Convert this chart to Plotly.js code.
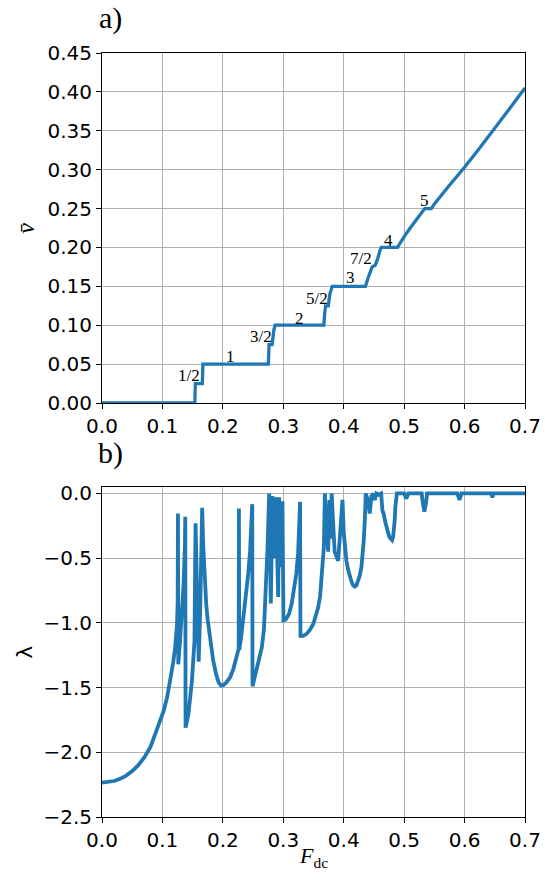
<!DOCTYPE html>
<html>
<head>
<meta charset="utf-8">
<script src="https://cdn.plot.ly/plotly-3.0.1.min.js"></script>
<style>html,body{margin:0;padding:0;background:#fff;}</style>
</head>
<body>
<div id="chart" style="width:545px;height:884px;"></div>
<script>
// Panel a): mean velocity vs F_dc
const fdcV = [0, 0.1537, 0.1540, 0.1545, 0.1660, 0.1665, 0.1670, 0.2753, 0.2758, 0.2765, 0.2815, 0.2825, 0.2845, 0.2865,
  0.3670, 0.3685, 0.3700, 0.3745, 0.3770, 0.3810, 0.4360, 0.4400, 0.4440, 0.4470, 0.4520, 0.4560, 0.4600, 0.4620,
  0.4890, 0.4940, 0.5000, 0.5100, 0.5200, 0.5300, 0.5340, 0.5450, 0.5500, 0.5750, 0.6000, 0.6250, 0.6500, 0.6750, 0.7000];
const vMean = [0, 0, 0.012, 0.025, 0.025, 0.037, 0.050, 0.050, 0.062, 0.075, 0.075, 0.084, 0.094, 0.100,
  0.100, 0.115, 0.125, 0.125, 0.140, 0.150, 0.150, 0.160, 0.170, 0.175, 0.177, 0.185, 0.196, 0.200,
  0.200, 0.207, 0.214, 0.225, 0.235, 0.245, 0.250, 0.250, 0.256, 0.280, 0.303, 0.328, 0.353, 0.379, 0.405];

// Step labels (winding numbers)
const stepText = ["1/2", "1", "3/2", "2", "5/2", "3", "7/2", "4", "5"];
const stepX = [0.144, 0.212, 0.263, 0.326, 0.355, 0.412, 0.428, 0.474, 0.534];
const stepY = [0.036, 0.060, 0.085, 0.109, 0.135, 0.161, 0.186, 0.209, 0.261];

// Panel b): Lyapunov exponent vs F_dc
const fdcL = [0.000, 0.010, 0.020, 0.030, 0.040, 0.050, 0.060, 0.070, 0.080, 0.088, 0.095, 0.102, 0.108, 0.113, 0.118, 0.121, 0.124, 0.1252,
  0.1257, 0.1262, 0.1290, 0.1320, 0.1350, 0.1372, 0.1378, 0.1383,
  0.1430, 0.1488, 0.1530, 0.1548, 0.1575, 0.1600, 0.1625, 0.1645, 0.1658,
  0.1675, 0.1697, 0.1725, 0.1750, 0.1800, 0.1840, 0.1890, 0.1930, 0.1970, 0.2010, 0.2060, 0.2120, 0.2173, 0.2228, 0.2262, 0.2266, 0.2271,
  0.2300, 0.2338, 0.2380, 0.2420, 0.2450, 0.2470, 0.2486, 0.2491,
  0.2530, 0.2560, 0.2600, 0.2645, 0.2680, 0.2700, 0.2725, 0.2740, 0.2766,
  0.2794, 0.2821, 0.2850, 0.2876, 0.2915, 0.2931, 0.2959, 0.2986, 0.3003,
  0.3040, 0.3096, 0.3140, 0.3179, 0.3215, 0.3245, 0.3265, 0.3278, 0.3284,
  0.3330, 0.3386, 0.3440, 0.3495, 0.3540, 0.3578, 0.3610, 0.3633, 0.3655, 0.3672, 0.3688,
  0.3715, 0.3743, 0.3765, 0.3780, 0.3800, 0.3850, 0.3908, 0.3950, 0.3980,
  0.4000, 0.4015, 0.4045, 0.4073, 0.4100, 0.4128, 0.4155, 0.4183, 0.4210, 0.4238, 0.4265, 0.4293, 0.4315, 0.4332, 0.4350, 0.4365,
  0.4400, 0.4430, 0.4460, 0.4490, 0.4513, 0.4540, 0.4580, 0.4620, 0.4640,
  0.4660, 0.4685, 0.4706, 0.4735, 0.4760, 0.4780, 0.4800, 0.4818, 0.4832, 0.4845, 0.4855, 0.4880,
  0.5000, 0.5036, 0.5070, 0.5290, 0.5310, 0.5335, 0.5360, 0.5380, 0.5880, 0.5916, 0.5950, 0.6440, 0.6460, 0.6480, 0.7000];
const lyap = [-2.235, -2.232, -2.222, -2.205, -2.180, -2.145, -2.100, -2.040, -1.960, -1.860, -1.770, -1.680, -1.570, -1.450, -1.300, -1.190, -1.020, -0.850,
  -0.155, -1.320, -1.150, -0.950, -0.700, -0.400, -0.180, -1.810,
  -1.705, -1.450, -1.140, -0.230, -0.900, -1.300, -0.900, -0.390, -0.110,
  -0.400, -0.670, -0.860, -0.980, -1.160, -1.290, -1.400, -1.460, -1.485, -1.480, -1.460, -1.420, -1.357, -1.270, -1.200, -0.117, -1.210,
  -1.120, -0.980, -0.820, -0.620, -0.450, -0.300, -0.083, -1.490,
  -1.420, -1.344, -1.280, -1.190, -1.050, -0.880, -0.650, -0.410, 0.000,
  -0.850, -0.020, -0.500, -0.030, -0.800, -0.030, -0.570, -0.060, -0.980,
  -0.975, -0.930, -0.850, -0.750, -0.620, -0.465, -0.280, -0.065, -1.100,
  -1.100, -1.085, -1.055, -1.010, -0.950, -0.880, -0.790, -0.670, -0.550, -0.410, 0.000,
  -0.300, -0.450, -0.050, -0.350, 0.000, -0.450, -0.520, -0.250, -0.050,
  -0.300, -0.410, -0.520, -0.590, -0.645, -0.680, -0.710, -0.720, -0.710, -0.680, -0.635, -0.570, -0.480, -0.360, -0.200, 0.000,
  -0.050, -0.155, -0.020, 0.000, -0.050, 0.000, -0.010, 0.000, -0.130,
  -0.155, -0.215, -0.260, -0.305, -0.340, -0.355, -0.360, -0.335, -0.290, -0.200, -0.100, 0.000,
  0.000, -0.040, 0.000, 0.000, -0.080, -0.140, -0.080, 0.000, 0.000, -0.050, 0.000, 0.000, -0.030, 0.000, 0.000];

const blue = '#1f77b4';
const traces = [
  {x: fdcV, y: vMean, type: 'scatter', mode: 'lines', line: {color: blue, width: 3.3}, xaxis: 'x', yaxis: 'y', hoverinfo: 'skip'},
  {x: fdcL, y: lyap, type: 'scatter', mode: 'lines', line: {color: blue, width: 3.8}, xaxis: 'x2', yaxis: 'y2', hoverinfo: 'skip'}
];

const tickFont = {family: 'DejaVu Sans', size: 20, color: '#000'};
const axBase = {
  showline: true, mirror: true, linecolor: '#000', linewidth: 1,
  ticks: 'outside', ticklen: 5, tickcolor: '#000', tickwidth: 1,
  showgrid: true, gridcolor: '#b0b0b0', gridwidth: 1, zeroline: false,
  tickfont: tickFont
};
const H = 764, T = 53;
function py(p) { return (817 - p) / H; }

const annotations = [];
for (let i = 0; i < stepText.length; i++) {
  annotations.push({x: stepX[i], y: stepY[i], xref: 'x', yref: 'y', text: stepText[i], showarrow: false,
    xanchor: 'center', yanchor: 'middle', font: {family: 'Liberation Serif', size: 17, color: '#000'}});
}
annotations.push({x: 0.02, y: py(18), xref: 'paper', yref: 'paper', text: 'a)', showarrow: false, xanchor: 'center', yanchor: 'middle',
  font: {family: 'Liberation Serif', size: 30, color: '#000'}});
annotations.push({x: 0.02, y: py(453), xref: 'paper', yref: 'paper', text: 'b)', showarrow: false, xanchor: 'center', yanchor: 'middle',
  font: {family: 'Liberation Serif', size: 30, color: '#000'}});
annotations.push({x: (25 - 101.5) / 424, y: py(228), xref: 'paper', yref: 'paper', text: '<i>v̄</i>', showarrow: false, textangle: -90,
  xanchor: 'center', yanchor: 'middle', font: {family: 'Liberation Serif', size: 24, color: '#000'}});
annotations.push({x: (23 - 101.5) / 424, y: py(652), xref: 'paper', yref: 'paper', text: 'λ', showarrow: false, textangle: -90,
  xanchor: 'center', yanchor: 'middle', font: {family: 'DejaVu Sans', size: 22, color: '#000'}});
annotations.push({x: 0.5, y: py(857), xref: 'paper', yref: 'paper', text: '<i>F</i><sub>dc</sub>', showarrow: false,
  xanchor: 'center', yanchor: 'middle', font: {family: 'Liberation Serif', size: 22, color: '#000'}});

const layout = {
  width: 545, height: 884,
  margin: {l: 101.5, r: 19.5, t: T, b: 67, pad: 0},
  paper_bgcolor: '#fff', plot_bgcolor: '#fff',
  showlegend: false,
  xaxis: Object.assign({}, axBase, {range: [0, 0.7], dtick: 0.1, tick0: 0, tickformat: '.1f', anchor: 'y', domain: [0, 1]}),
  yaxis: Object.assign({}, axBase, {range: [0, 0.45], dtick: 0.05, tick0: 0, tickformat: '.2f', anchor: 'x', domain: [py(403), 1]}),
  xaxis2: Object.assign({}, axBase, {range: [0, 0.7], dtick: 0.1, tick0: 0, tickformat: '.1f', anchor: 'y2', domain: [0, 1]}),
  yaxis2: Object.assign({}, axBase, {range: [-2.5, 0.05], dtick: 0.5, tick0: 0, tickformat: '.1f', anchor: 'x2', domain: [0, py(487)]}),
  annotations: annotations
};
Plotly.newPlot('chart', traces, layout, {staticPlot: true, displayModeBar: false});
</script>
</body>
</html>
